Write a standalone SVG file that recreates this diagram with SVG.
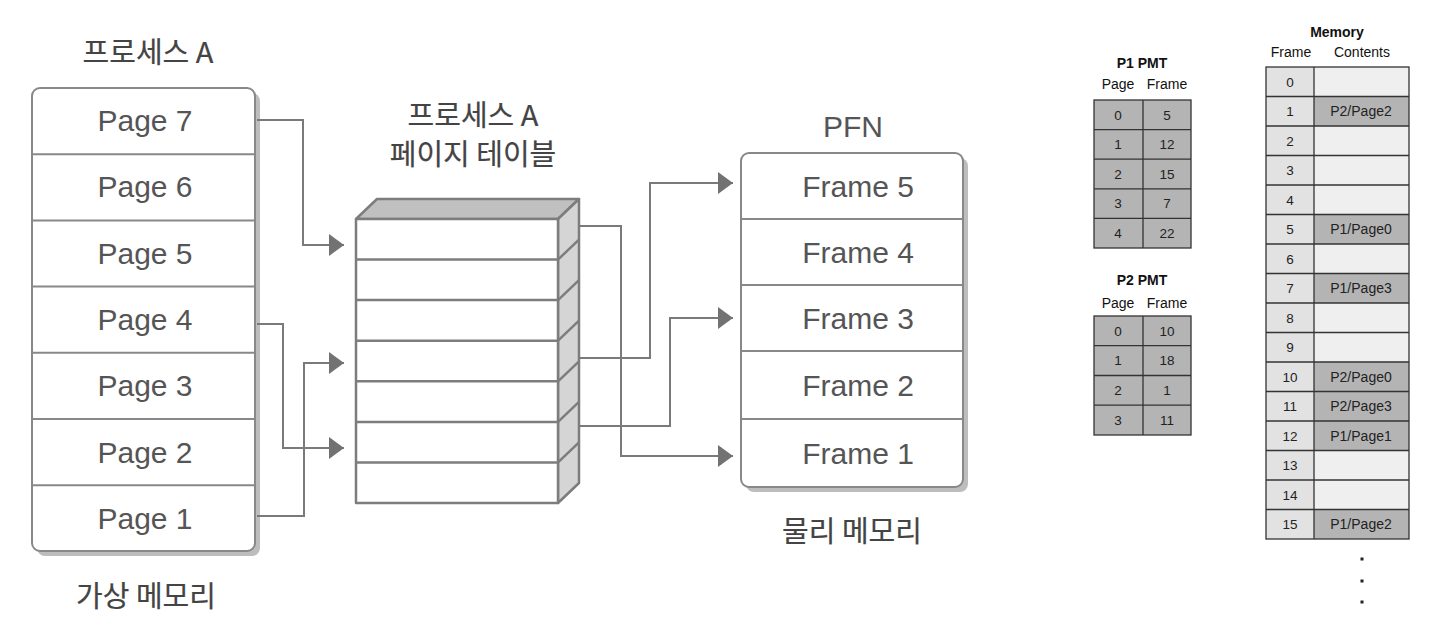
<svg xmlns="http://www.w3.org/2000/svg" width="1440" height="634" viewBox="0 0 1440 634">
<style>
.kr{font-family:"Noto Sans CJK KR","Noto Sans",sans-serif;font-size:29px;font-weight:normal;fill:#444;stroke:#444;stroke-width:0.2;text-anchor:middle}
.lbl{font-family:"Liberation Sans",Arial,sans-serif;font-size:30px;fill:#555;text-anchor:middle}
.box{fill:#fff;stroke:#888;stroke-width:2}
.shadow{fill:#bdbdbd}
.div{stroke:#888;stroke-width:2}
.conn{fill:none;stroke:#7a7a7a;stroke-width:2}
.tbl{stroke:#7d7d7d;stroke-width:2.5;stroke-linejoin:round}
.t{font-family:"Liberation Sans",Arial,sans-serif;font-size:13.5px;fill:#222;text-anchor:middle}
.c{font-family:"Liberation Sans",Arial,sans-serif;font-size:14px;fill:#222;text-anchor:middle}
.h{font-family:"Liberation Sans",Arial,sans-serif;font-size:14px;fill:#111;text-anchor:middle}
.b{font-family:"Liberation Sans",Arial,sans-serif;font-size:14px;font-weight:bold;fill:#111;text-anchor:middle}
.cell{stroke:#333;stroke-width:1.3}
.dk{fill:#b4b4b4}
.lt{fill:#e2e2e2}
.em{fill:#efefef}
</style>
<defs>
<marker id="arr" markerUnits="userSpaceOnUse" markerWidth="16" markerHeight="24" refX="15" refY="11" orient="auto">
<path d="M0,0 L15,11 L0,22 Z" fill="#727272"/>
</marker>
</defs>
<rect width="1440" height="634" fill="#fff"/>

<g id="virtual-memory">
<text class="kr" x="148" y="63">프로세스 A</text>
<rect class="shadow" x="37" y="93" width="223" height="463" rx="8"/>
<rect class="box" x="32" y="88" width="223" height="463" rx="8"/>
<line class="div" x1="32" y1="154.2" x2="255" y2="154.2"/>
<line class="div" x1="32" y1="220.4" x2="255" y2="220.4"/>
<line class="div" x1="32" y1="286.6" x2="255" y2="286.6"/>
<line class="div" x1="32" y1="352.8" x2="255" y2="352.8"/>
<line class="div" x1="32" y1="419" x2="255" y2="419"/>
<line class="div" x1="32" y1="485.2" x2="255" y2="485.2"/>
<text class="lbl" x="145" y="131">Page 7</text>
<text class="lbl" x="145" y="197">Page 6</text>
<text class="lbl" x="145" y="264">Page 5</text>
<text class="lbl" x="145" y="330">Page 4</text>
<text class="lbl" x="145" y="396">Page 3</text>
<text class="lbl" x="145" y="463">Page 2</text>
<text class="lbl" x="145" y="529">Page 1</text>
<text class="kr" x="146" y="607">가상 메모리</text>
</g>

<g id="page-table">
<text class="kr" x="473" y="126">프로세스 A</text>
<text class="kr" x="473" y="165">페이지 테이블</text>
<polygon class="tbl" points="356,219 377,199 579,199 558,219" fill="#c0c0c0"/>
<polygon class="tbl" points="558,219 579,199 579,483 558,503" fill="#d5d5d5"/>
<rect class="tbl" x="356" y="219" width="202" height="284" fill="#fff"/>
<g class="tbl">
<line x1="356" y1="259.6" x2="558" y2="259.6"/><line x1="558" y1="259.6" x2="579" y2="239.6"/>
<line x1="356" y1="300.1" x2="558" y2="300.1"/><line x1="558" y1="300.1" x2="579" y2="280.1"/>
<line x1="356" y1="340.7" x2="558" y2="340.7"/><line x1="558" y1="340.7" x2="579" y2="320.7"/>
<line x1="356" y1="381.3" x2="558" y2="381.3"/><line x1="558" y1="381.3" x2="579" y2="361.3"/>
<line x1="356" y1="421.9" x2="558" y2="421.9"/><line x1="558" y1="421.9" x2="579" y2="401.9"/>
<line x1="356" y1="462.4" x2="558" y2="462.4"/><line x1="558" y1="462.4" x2="579" y2="442.4"/>
</g>
</g>

<g id="physical-memory">
<text class="lbl" x="853" y="137">PFN</text>
<rect class="shadow" x="746" y="158" width="222" height="334" rx="8"/>
<rect class="box" x="741" y="153" width="222" height="334" rx="8"/>
<line class="div" x1="741" y1="219" x2="963" y2="219"/>
<line class="div" x1="741" y1="285" x2="963" y2="285"/>
<line class="div" x1="741" y1="351" x2="963" y2="351"/>
<line class="div" x1="741" y1="419" x2="963" y2="419"/>
<text class="lbl" x="858" y="197">Frame 5</text>
<text class="lbl" x="858" y="263">Frame 4</text>
<text class="lbl" x="858" y="329">Frame 3</text>
<text class="lbl" x="858" y="396">Frame 2</text>
<text class="lbl" x="858" y="464">Frame 1</text>
<text class="kr" x="852" y="542">물리 메모리</text>
</g>

<g id="connectors">
<polyline class="conn" points="257,120 303,120 303,245 344,245" marker-end="url(#arr)"/>
<polyline class="conn" points="257,324 283,324 283,448 344,448" marker-end="url(#arr)"/>
<polyline class="conn" points="257,516 304,516 304,363 344,363" marker-end="url(#arr)"/>
<polyline class="conn" points="580,226 621,226 621,456 733,456" marker-end="url(#arr)"/>
<polyline class="conn" points="580,358 650,358 650,183 733,183" marker-end="url(#arr)"/>
<polyline class="conn" points="580,426 670,426 670,318 733,318" marker-end="url(#arr)"/>
</g>

<g id="p1-pmt">
<text class="b" x="1142" y="68">P1 PMT</text>
<text class="h" x="1118" y="89">Page</text>
<text class="h" x="1167" y="89">Frame</text>
<rect class="cell dk" x="1094" y="100" width="97" height="148"/>
<line class="cell" x1="1143" y1="100" x2="1143" y2="248"/>
<line class="cell" x1="1094" y1="129.6" x2="1191" y2="129.6"/>
<line class="cell" x1="1094" y1="159.2" x2="1191" y2="159.2"/>
<line class="cell" x1="1094" y1="188.8" x2="1191" y2="188.8"/>
<line class="cell" x1="1094" y1="218.4" x2="1191" y2="218.4"/>
<text class="t" x="1118" y="119.5">0</text><text class="t" x="1167" y="119.5">5</text>
<text class="t" x="1118" y="149">1</text><text class="t" x="1167" y="149">12</text>
<text class="t" x="1118" y="178.7">2</text><text class="t" x="1167" y="178.7">15</text>
<text class="t" x="1118" y="208.3">3</text><text class="t" x="1167" y="208.3">7</text>
<text class="t" x="1118" y="237.9">4</text><text class="t" x="1167" y="237.9">22</text>
</g>

<g id="p2-pmt">
<text class="b" x="1142" y="285">P2 PMT</text>
<text class="h" x="1118" y="308">Page</text>
<text class="h" x="1167" y="308">Frame</text>
<rect class="cell dk" x="1094" y="316" width="97" height="119"/>
<line class="cell" x1="1143" y1="316" x2="1143" y2="435"/>
<line class="cell" x1="1094" y1="345.7" x2="1191" y2="345.7"/>
<line class="cell" x1="1094" y1="375.5" x2="1191" y2="375.5"/>
<line class="cell" x1="1094" y1="405.2" x2="1191" y2="405.2"/>
<text class="t" x="1118" y="335.6">0</text><text class="t" x="1167" y="335.6">10</text>
<text class="t" x="1118" y="365.3">1</text><text class="t" x="1167" y="365.3">18</text>
<text class="t" x="1118" y="395">2</text><text class="t" x="1167" y="395">1</text>
<text class="t" x="1118" y="424.8">3</text><text class="t" x="1167" y="424.8">11</text>
</g>

<g id="memory">
<text class="b" x="1337" y="37">Memory</text>
<text class="h" x="1291" y="57">Frame</text>
<text class="h" x="1362" y="57">Contents</text>
<rect class="lt" x="1266" y="67" width="48" height="472"/>
<rect class="em" x="1314" y="67" width="95" height="472"/>
<rect class="dk" x="1314" y="96.5" width="95" height="29.5"/>
<rect class="dk" x="1314" y="214.5" width="95" height="29.5"/>
<rect class="dk" x="1314" y="273.5" width="95" height="29.5"/>
<rect class="dk" x="1314" y="362" width="95" height="88.5"/>
<rect class="dk" x="1314" y="509.5" width="95" height="29.5"/>
<rect class="cell" x="1266" y="67" width="143" height="472" fill="none"/>
<line class="cell" x1="1314" y1="67" x2="1314" y2="539"/>
<g class="cell">
<line x1="1266" y1="96.5" x2="1409" y2="96.5"/>
<line x1="1266" y1="126" x2="1409" y2="126"/>
<line x1="1266" y1="155.5" x2="1409" y2="155.5"/>
<line x1="1266" y1="185" x2="1409" y2="185"/>
<line x1="1266" y1="214.5" x2="1409" y2="214.5"/>
<line x1="1266" y1="244" x2="1409" y2="244"/>
<line x1="1266" y1="273.5" x2="1409" y2="273.5"/>
<line x1="1266" y1="303" x2="1409" y2="303"/>
<line x1="1266" y1="332.5" x2="1409" y2="332.5"/>
<line x1="1266" y1="362" x2="1409" y2="362"/>
<line x1="1266" y1="391.5" x2="1409" y2="391.5"/>
<line x1="1266" y1="421" x2="1409" y2="421"/>
<line x1="1266" y1="450.5" x2="1409" y2="450.5"/>
<line x1="1266" y1="480" x2="1409" y2="480"/>
<line x1="1266" y1="509.5" x2="1409" y2="509.5"/>
</g>
<g>
<text class="t" x="1290" y="86.5">0</text>
<text class="t" x="1290" y="116">1</text>
<text class="t" x="1290" y="145.5">2</text>
<text class="t" x="1290" y="175">3</text>
<text class="t" x="1290" y="204.5">4</text>
<text class="t" x="1290" y="234">5</text>
<text class="t" x="1290" y="263.5">6</text>
<text class="t" x="1290" y="293">7</text>
<text class="t" x="1290" y="322.5">8</text>
<text class="t" x="1290" y="352">9</text>
<text class="t" x="1290" y="381.5">10</text>
<text class="t" x="1290" y="411">11</text>
<text class="t" x="1290" y="440.5">12</text>
<text class="t" x="1290" y="470">13</text>
<text class="t" x="1290" y="499.5">14</text>
<text class="t" x="1290" y="529">15</text>
</g>
<text class="c" x="1361" y="116">P2/Page2</text>
<text class="c" x="1361" y="234">P1/Page0</text>
<text class="c" x="1361" y="293">P1/Page3</text>
<text class="c" x="1361" y="381.5">P2/Page0</text>
<text class="c" x="1361" y="411">P2/Page3</text>
<text class="c" x="1361" y="440.5">P1/Page1</text>
<text class="c" x="1361" y="529">P1/Page2</text>
<rect x="1360.5" y="557.5" width="3" height="3" fill="#222"/>
<rect x="1360.5" y="579.5" width="3" height="3" fill="#222"/>
<rect x="1360.5" y="600.5" width="3" height="3" fill="#222"/>
</g>
</svg>
